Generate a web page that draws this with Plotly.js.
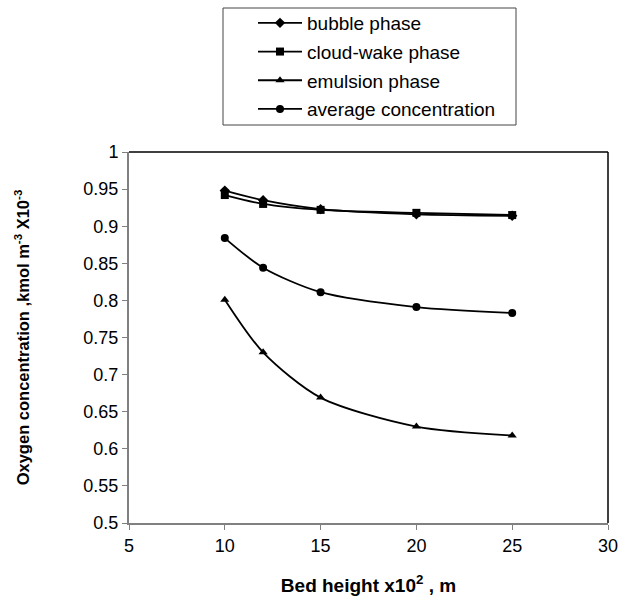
<!DOCTYPE html>
<html>
<head>
<meta charset="utf-8">
<script src="https://cdn.plot.ly/plotly-3.0.1.min.js"></script>
<style>html,body{margin:0;padding:0;background:#fff;}#chart{width:620px;height:602px;}</style>
</head>
<body>
<div id="chart"></div>
<script>
var bedHeight = [10, 12, 15, 20, 25];
var bubblePhase = [0.948, 0.935, 0.923, 0.916, 0.914];
var cloudWakePhase = [0.942, 0.930, 0.922, 0.918, 0.915];
var emulsionPhase = [0.801, 0.730, 0.669, 0.630, 0.618];
var averageConc = [0.884, 0.844, 0.811, 0.791, 0.783];
var seriesNames = ["bubble phase", "cloud-wake phase", "emulsion phase", "average concentration"];
var xTicks = [5, 10, 15, 20, 25, 30];
var yTicks = [0.5, 0.55, 0.6, 0.65, 0.7, 0.75, 0.8, 0.85, 0.9, 0.95, 1];

var symbols = ["diamond", "square", "triangle-up", "circle"];
var ys = [bubblePhase, cloudWakePhase, emulsionPhase, averageConc];
var traces = ys.map(function (y, i) {
  return {
    x: bedHeight, y: y, name: seriesNames[i], type: "scatter", mode: "lines+markers",
    line: {color: "#000", width: 1.8, shape: "spline", smoothing: 0.8},
    marker: {symbol: symbols[i], size: 8, color: "#000"},
    legendgroup: "g" + i
  };
});

var L = 129, R = 608, T = 152, B = 523;
function px(x) { return (x - L) / (R - L); }
function py(y) { return (B - y) / (B - T); }

var layout = {
  width: 620, height: 602,
  margin: {l: L, r: 620 - R, t: T, b: 602 - B, autoexpand: false},
  paper_bgcolor: "#fff", plot_bgcolor: "#fff",
  font: {family: "Liberation Sans, Arial, sans-serif", color: "#000"},
  showlegend: true,
  legend: {
    x: px(253), y: py(4), xanchor: "left", yanchor: "top",
    bgcolor: "rgba(0,0,0,0)", borderwidth: 0,
    font: {size: 19, color: "#000"},
    traceorder: "grouped", tracegroupgap: 1,
    itemwidth: 44
  },
  xaxis: {
    range: [5, 30], tickvals: xTicks, ticktext: xTicks.map(String),
    showgrid: false, zeroline: false,
    showline: true, linecolor: "#808080", linewidth: 2,
    ticks: "outside", ticklen: 5, tickcolor: "#808080",
    tickfont: {size: 18, color: "#000"},
    title: {text: "<b>Bed height x10<sup>2</sup> , m</b>", font: {size: 19, color: "#000"}, standoff: 24}
  },
  yaxis: {
    range: [0.5, 1], tickvals: yTicks, ticktext: yTicks.map(String),
    showgrid: false, zeroline: false,
    showline: true, linecolor: "#808080", linewidth: 2,
    ticks: "outside", ticklen: 5, tickcolor: "#808080",
    tickfont: {size: 18, color: "#000"},
    title: {text: "<b>Oxygen concentration ,kmol m<sup>-3</sup> X10<sup>-3</sup></b>", font: {size: 16.5, color: "#000"}, standoff: 50}
  },
  shapes: [
    {type: "line", xref: "paper", yref: "paper", x0: 0, x1: 1, y0: 1, y1: 1, line: {color: "#000", width: 1.5}},
    {type: "line", xref: "paper", yref: "paper", x0: 1, x1: 1, y0: 0, y1: 1, line: {color: "#000", width: 1.5}},
    {type: "rect", xref: "paper", yref: "paper", x0: px(223), x1: px(516), y0: py(125), y1: py(8), line: {color: "#444", width: 1}, fillcolor: "rgba(0,0,0,0)"}
  ]
};

Plotly.newPlot("chart", traces, layout, {displayModeBar: false, staticPlot: true});
</script>
</body>
</html>
